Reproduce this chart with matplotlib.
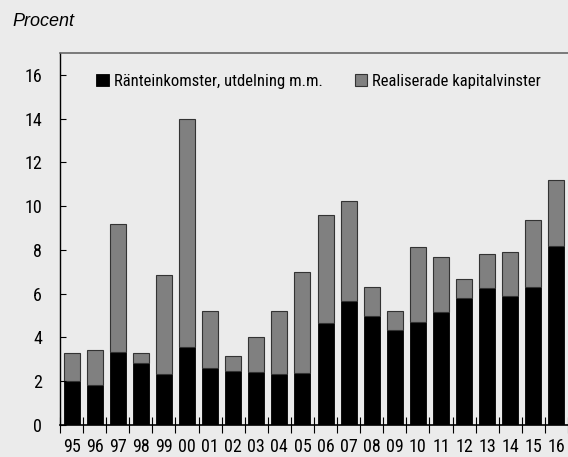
import matplotlib
matplotlib.use("Agg")
import matplotlib.pyplot as plt
import numpy as np

years = ["95","96","97","98","99","00","01","02","03","04","05","06","07","08","09","10","11","12","13","14","15","16"]
interest = [2.03,1.81,3.35,2.82,2.32,3.55,2.62,2.47,2.42,2.32,2.36,4.65,5.68,5.00,4.36,4.72,5.17,5.79,6.25,5.91,6.32,8.20]
totals = [3.28,3.43,9.19,3.28,6.87,13.99,5.20,3.15,4.01,5.21,6.99,9.60,10.24,6.32,5.21,8.12,7.66,6.66,7.82,7.91,9.39,11.20]
gains = [t - i for t, i in zip(totals, interest)]
labels = ["Ränteinkomster, utdelning m.m.", "Realiserade kapitalvinster"]

plt.rcParams['font.family'] = ['Roboto Condensed', 'DejaVu Sans']

bg = "#ebebeb"
fig = plt.figure(figsize=(5.68, 4.57), dpi=100, facecolor=bg)
ax = fig.add_axes([60/568, 32/457, 1 - 60/568, (425-53)/457], facecolor=bg)

x = np.arange(len(years))
w = 0.69
ax.bar(x, interest, width=w, color="black", edgecolor="black", linewidth=0.6, label=labels[0])
ax.bar(x, gains, width=w, bottom=interest, color="#808080", edgecolor="#333333", linewidth=0.8, label=labels[1])

ax.set_xlim(-0.5, 21.38)
ax.set_ylim(0, 17)
ax.set_yticks(range(0, 17, 2))
ax.tick_params(axis='y', direction='in', length=4, width=0.8, pad=13, labelsize=13)
ax.set_xticks(x)
ax.set_xticklabels(years)
ax.tick_params(axis='x', which='major', length=0, pad=9, labelsize=13)
ax.set_xticks(np.arange(-0.5, len(years)), minor=True)
ax.tick_params(axis='x', which='minor', direction='inout', length=11, width=0.8)

ax.spines['right'].set_visible(False)
ax.spines['top'].set_color("#666666")
ax.spines['top'].set_linewidth(1.2)
ax.spines['left'].set_linewidth(1.0)
ax.spines['bottom'].set_linewidth(1.2)

leg = ax.legend(loc='upper left', bbox_to_anchor=(36/508, 0.943), ncol=2, frameon=False,
                fontsize=12, handlelength=0.75, handleheight=0.75, handletextpad=0.3,
                columnspacing=1.95, borderaxespad=0, borderpad=0)

fig.text(12/568, 1 - 21/457, "Procent", fontsize=13, style='italic', va='center', ha='left',
         family=['Liberation Sans', 'DejaVu Sans'])

fig.savefig("out.png", dpi=100, facecolor=bg)
